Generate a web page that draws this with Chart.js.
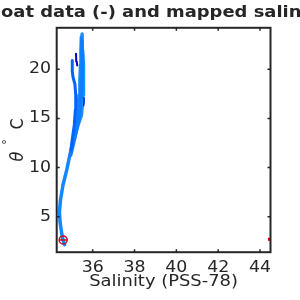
<!DOCTYPE html>
<html>
<head>
<meta charset="utf-8">
<script src="https://cdn.jsdelivr.net/npm/chart.js@4"></script>
<style>
  html, body { margin: 0; padding: 0; background: #fff; }
  canvas { display: block; }
</style>
</head>
<body>
<canvas id="tsChart" width="300" height="300"></canvas>
<script>
// -------- Data --------
const xTicks = [36, 38, 40, 42, 44];
const yTicks = [5, 10, 15, 20];

// main float profile, deep end to surface
const thetaMain = [2.15, 2.5, 2.9, 3.44, 4.46, 5.48, 6.70, 8.23, 9.76, 11.28, 12.81, 14.34, 15.86, 17.39, 18.92, 20.45, 21.98, 23.30];
const salMain   = [34.66, 34.60, 34.55, 34.51, 34.44, 34.41, 34.46, 34.58, 34.76, 34.91, 35.07, 35.20, 35.30, 35.35, 35.39, 35.42, 35.44, 35.46];

// other profiles in the upper part
const thetaRight = [12.81, 14.34, 15.3, 16.5, 17.4, 18.9, 20.4, 21.9, 23.3, 23.6];
const salRight   = [35.10, 35.30, 35.46, 35.51, 35.54, 35.56, 35.56, 35.52, 35.50, 35.49];

const thetaMid = [11.28, 12.81, 14.34, 15.86, 17.39, 18.92, 20.45, 21.98, 23.0];
const salMid   = [34.95, 35.12, 35.28, 35.40, 35.46, 35.50, 35.50, 35.50, 35.48];

const thetaLeft = [11.8, 12.81, 14.34, 15.86, 17.39, 18.5, 19.2, 19.9, 20.5, 20.9];
const salLeft   = [34.96, 35.02, 35.12, 35.17, 35.19, 35.15, 35.06, 35.02, 35.02, 35.03];

const thetaDark = [20.4, 20.8, 21.2, 21.6];
const salDark   = [35.26, 35.24, 35.21, 35.20];

const thetaDark2 = [16.3, 16.7, 17.1];
const salDark2   = [35.57, 35.59, 35.58];

// mapped salinity points
const circleSal = [34.59];
const circleTheta = [2.63];
const edgeSal = [44.45];
const edgeTheta = [2.70];

const textColor = '#262626';
const stretch = 1.12;

function toXY(xs, ys) {
  return xs.map((x, i) => ({ x: x, y: ys[i] }));
}

function profile(xs, ys, color, width, order) {
  return {
    data: toXY(xs, ys),
    showLine: true,
    borderColor: color,
    backgroundColor: color,
    borderWidth: width,
    borderJoinStyle: 'round',
    borderCapStyle: 'round',
    pointRadius: 0,
    tension: 0,
    order: order
  };
}

function drawText(ctx, str, x, y, align, baseline, font) {
  ctx.save();
  ctx.translate(x, y);
  ctx.scale(stretch, 1);
  ctx.font = font;
  ctx.textAlign = align;
  ctx.textBaseline = baseline;
  ctx.fillStyle = textColor;
  ctx.fillText(str, 0, 0);
  ctx.restore();
}

// box, inward ticks and all texts
const matlabAxes = {
  id: 'matlabAxes',
  afterDraw(chart) {
    const ctx = chart.ctx;
    const a = chart.chartArea;
    const xs = chart.scales.x;
    const ys = chart.scales.y;

    ctx.save();
    ctx.strokeStyle = textColor;
    ctx.lineWidth = 2;
    ctx.strokeRect(a.left, a.top, a.right - a.left, a.bottom - a.top);

    ctx.lineWidth = 1.5;
    ctx.beginPath();
    xs.ticks.forEach(t => {
      const px = xs.getPixelForValue(t.value);
      ctx.moveTo(px, a.bottom); ctx.lineTo(px, a.bottom - 3);
      ctx.moveTo(px, a.top); ctx.lineTo(px, a.top + 3);
    });
    ys.ticks.forEach(t => {
      const py = ys.getPixelForValue(t.value);
      ctx.moveTo(a.left, py); ctx.lineTo(a.left + 3, py);
      ctx.moveTo(a.right, py); ctx.lineTo(a.right - 3, py);
    });
    ctx.stroke();
    ctx.restore();

    const tickFont = '15.5px "DejaVu Sans"';
    xs.ticks.forEach(t => {
      drawText(ctx, String(t.value), xs.getPixelForValue(t.value), 267.5, 'center', 'middle', tickFont);
    });
    ys.ticks.forEach(t => {
      ctx.save();
      ctx.font = tickFont;
      const w = ctx.measureText(String(t.value)).width * stretch;
      ctx.restore();
      drawText(ctx, String(t.value), 51 - w, ys.getPixelForValue(t.value), 'left', 'middle', tickFont);
    });

    drawText(ctx, 'Salinity (PSS-78)', (a.left + a.right) / 2, 286, 'center', 'alphabetic', '16px "DejaVu Sans"');

    // title, clipped by the canvas edge like the original
    const titleFont = 'bold 16px "DejaVu Sans"';
    ctx.save();
    ctx.font = titleFont;
    const cut = ctx.measureText('Fl').width * stretch;
    ctx.restore();
    drawText(ctx, 'Float data (-) and mapped salinity (o)', -cut + 1, 17.2, 'left', 'alphabetic', titleFont);

    // y label: theta ^circ C, rotated
    const parts = [
      { s: '\u03b8', y: 156.5, font: 'oblique 16px "DejaVu Sans"', off: 0 },
      { s: '\u00b0', y: 142, font: '11px "DejaVu Sans"', off: -10.7 },
      { s: 'C', y: 124, font: '16px "DejaVu Sans"', off: 0 }
    ];
    parts.forEach(p => {
      ctx.save();
      ctx.translate(23, p.y);
      ctx.rotate(-Math.PI / 2);
      ctx.scale(1, stretch);
      ctx.font = p.font;
      ctx.fillStyle = textColor;
      ctx.textAlign = 'center';
      ctx.textBaseline = 'alphabetic';
      ctx.fillText(p.s, 0, p.off);
      ctx.restore();
    });
  }
};

const ctx = document.getElementById('tsChart').getContext('2d');
const chart = new Chart(ctx, {
  type: 'scatter',
  data: {
    datasets: [
      profile(salMain, thetaMain, 'rgb(20,135,255)', 3.5, 6),
      profile(salRight, thetaRight, 'rgb(30,145,255)', 3.5, 7),
      profile(salMid, thetaMid, 'rgb(15,125,255)', 3.5, 5),
      profile(salLeft, thetaLeft, 'rgb(0,100,255)', 3, 4),
      profile(salDark, thetaDark, 'rgb(0,0,205)', 2, 2),
      profile(salDark2, thetaDark2, 'rgb(0,30,215)', 1.5, 2),
      {
        data: toXY(circleSal, circleTheta),
        pointStyle: 'circle',
        pointRadius: 4,
        borderColor: 'rgb(190,15,40)',
        backgroundColor: 'rgba(0,0,0,0)',
        borderWidth: 1.5,
        order: 1
      },
      {
        data: toXY(circleSal, circleTheta),
        pointStyle: 'line',
        pointRadius: 4,
        borderColor: 'rgb(190,15,40)',
        borderWidth: 1.5,
        order: 0
      },
      {
        data: toXY(edgeSal, edgeTheta),
        pointStyle: 'rect',
        pointRadius: 2.2,
        borderColor: 'rgb(220,0,0)',
        backgroundColor: 'rgb(220,0,0)',
        borderWidth: 0,
        order: 0
      }
    ]
  },
  options: {
    responsive: false,
    animation: false,
    layout: { padding: { left: 0, right: 29.5, top: 27.8, bottom: 0 } },
    plugins: { legend: { display: false }, tooltip: { enabled: false } },
    scales: {
      x: {
        type: 'linear',
        min: 34.28,
        max: 44.5,
        afterBuildTicks: s => { s.ticks = xTicks.map(v => ({ value: v })); },
        afterFit: s => { s.height = 47.8; },
        ticks: { display: false },
        grid: { display: false },
        border: { display: false }
      },
      y: {
        type: 'linear',
        min: 1.385,
        max: 24.23,
        afterBuildTicks: s => { s.ticks = yTicks.map(v => ({ value: v })); },
        afterFit: s => { s.width = 56.7; },
        ticks: { display: false },
        grid: { display: false },
        border: { display: false }
      }
    }
  },
  plugins: [matlabAxes]
});
</script>
</body>
</html>
